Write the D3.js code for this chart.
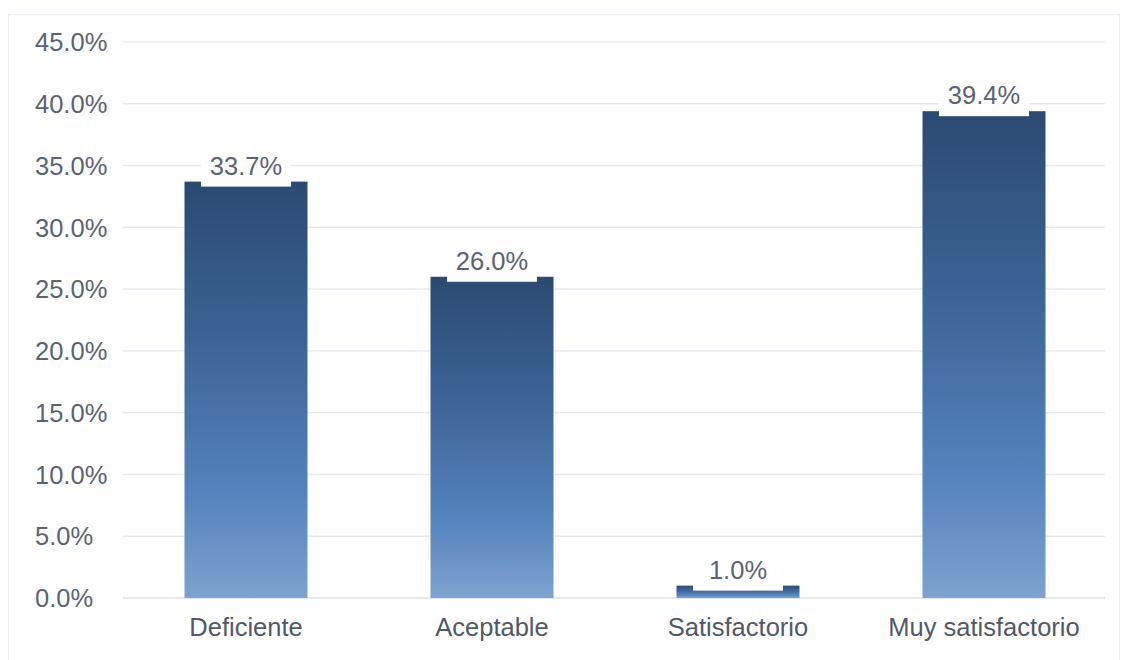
<!DOCTYPE html>
<html>
<head>
<meta charset="utf-8">
<script src="https://cdn.jsdelivr.net/npm/d3@7"></script>
<style>
  html, body { margin: 0; padding: 0; background: #fff; }
  svg { display: block; font-family: "Liberation Sans", Arial, sans-serif; }
</style>
</head>
<body>
<svg id="chart" width="1122" height="660"></svg>
<script>
// Survey results: share of responses per rating
const categories = ["Deficiente", "Aceptable", "Satisfactorio", "Muy satisfactorio"];
const values = [33.7, 26.0, 1.0, 39.4];
const yTicks = [0, 5, 10, 15, 20, 25, 30, 35, 40, 45];

const svg = d3.select("#chart");
const plot = { left: 123, right: 1107, top: 42, bottom: 598 };
const fontSize = 25.5;

// outer frame
svg.append("rect")
  .attr("x", 8.5).attr("y", 14.5)
  .attr("width", 1111).attr("height", 660)
  .attr("fill", "#fff").attr("stroke", "#eceef3").attr("stroke-width", 1);

const x = d3.scaleBand()
  .domain(categories)
  .range([plot.left, plot.right])
  .paddingInner(0.5)
  .paddingOuter(0.25);

const y = d3.scaleLinear()
  .domain([0, 45])
  .range([plot.bottom, plot.top]);

const fmt = d => d.toFixed(1) + "%";

// bar gradient, dark navy on top fading to light blue
const defs = svg.append("defs");
const grad = defs.append("linearGradient")
  .attr("id", "barGrad")
  .attr("x1", 0).attr("y1", 0).attr("x2", 0).attr("y2", 1);
[
  [0, "#2b4a72"],
  [0.35, "#3b6193"],
  [0.75, "#5483bd"],
  [1, "#7ea2cf"]
].forEach(([o, c]) => grad.append("stop").attr("offset", o).attr("stop-color", c));

// horizontal gridlines
svg.append("g")
  .selectAll("line")
  .data(yTicks)
  .join("line")
  .attr("x1", plot.left).attr("x2", plot.right - 2)
  .attr("y1", d => y(d)).attr("y2", d => y(d))
  .attr("stroke", d => d === 0 ? "#dde1e9" : "#e7eaf1")
  .attr("stroke-width", 1.5);

// y tick labels (left aligned)
svg.append("g")
  .selectAll("text")
  .data(yTicks)
  .join("text")
  .attr("x", 35)
  .attr("y", d => y(d))
  .attr("dy", "0.36em")
  .attr("font-size", fontSize)
  .attr("fill", "#5a6373")
  .text(fmt);

// bars
svg.append("g")
  .selectAll("rect")
  .data(values)
  .join("rect")
  .attr("x", (d, i) => x(categories[i]))
  .attr("width", x.bandwidth())
  .attr("y", d => y(d))
  .attr("height", d => y(0) - y(d))
  .attr("fill", "url(#barGrad)");

// value labels on white plates
const labels = svg.append("g")
  .selectAll("g")
  .data(values)
  .join("g")
  .attr("transform", (d, i) => `translate(${x(categories[i]) + x.bandwidth() / 2},${y(d)})`);

labels.append("rect")
  .attr("x", -45).attr("width", 90)
  .attr("y", -32).attr("height", 37)
  .attr("fill", "#fff");

labels.append("text")
  .attr("text-anchor", "middle")
  .attr("y", -7)
  .attr("font-size", fontSize)
  .attr("fill", "#5a6373")
  .text(fmt);

// category labels
svg.append("g")
  .selectAll("text")
  .data(categories)
  .join("text")
  .attr("x", d => x(d) + x.bandwidth() / 2)
  .attr("y", 636)
  .attr("text-anchor", "middle")
  .attr("font-size", fontSize)
  .attr("fill", "#505969")
  .text(d => d);
</script>
</body>
</html>
